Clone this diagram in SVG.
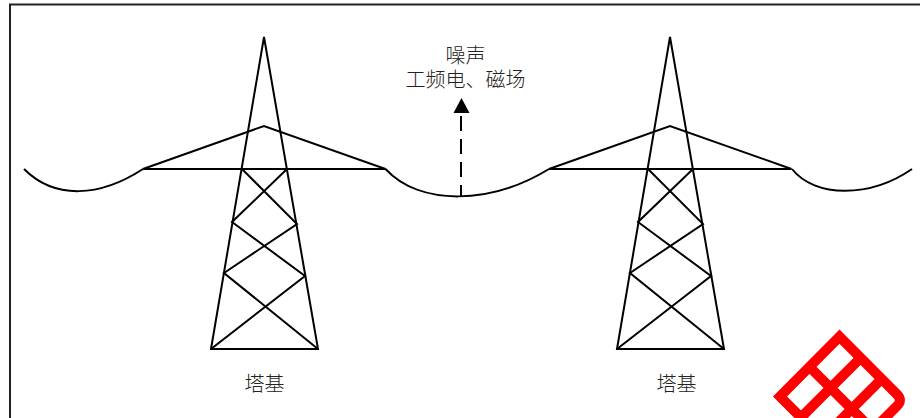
<svg xmlns="http://www.w3.org/2000/svg" xmlns:xlink="http://www.w3.org/1999/xlink" width="920" height="418" viewBox="0 0 920 418">
<style>
.l{fill:none;stroke:#000;stroke-width:2}
.t{font-family:"Noto Sans CJK SC","Noto Sans CJK JP",sans-serif;font-size:20px;font-weight:300;fill:#222;text-anchor:middle}
.r{fill:none;stroke:#f00;stroke-width:10;stroke-linejoin:miter}
</style>
<defs>
<g id="tower">
<path class="l" d="M211,349 L264,37 L318,349 Z"/>
<path class="l" d="M143,169 L264,126 L385.500,169 Z"/>
<path class="l" d="M242,169 L297,224 L224,273 L318,349 M287,169 L232,222 L305,276 L211,349"/>
</g>
</defs>
<rect width="920" height="418" fill="#fff"/>
<path id="frame" d="M10,418 V4.500 H920" fill="none" stroke="#222" stroke-width="2"/>
<g id="tower-left"><use xlink:href="#tower" href="#tower"/></g>
<g id="tower-right"><use xlink:href="#tower" href="#tower" x="406"/></g>
<g id="connectors">
<path class="l" d="M24,169 C55,200 100,197 143,169"/>
<path class="l" d="M385.500,169 C420,206 490,205 549,169"/>
<path class="l" d="M792,169 C815,198 870,198 912,169"/>
<path d="M461,116 V196" fill="none" stroke="#000" stroke-width="2" stroke-dasharray="15,8"/>
<path d="M461.500,98 L469.500,113 H453.500 Z" fill="#000"/>
</g>
<g id="label-emission">
<text class="t"><tspan x="465.500" y="63">噪声</tspan><tspan x="465.500" y="87">工频电、磁场</tspan></text>
</g>
<g id="label-base-left"><text class="t" x="264.500" y="391">塔基</text></g>
<g id="label-base-right"><text class="t" x="676.500" y="391">塔基</text></g>
<g id="logo">
<path class="r" d="M830,446.500 L780,396.500 L839.500,336.700 L897,394.400 Q902.800,400.200 897,406 L860,443"/>
<path class="r" d="M809.400,366.700 L872.700,430 M860.500,358 L800.900,417.600 M881.600,379 L830,430.700"/>
</g>
</svg>
